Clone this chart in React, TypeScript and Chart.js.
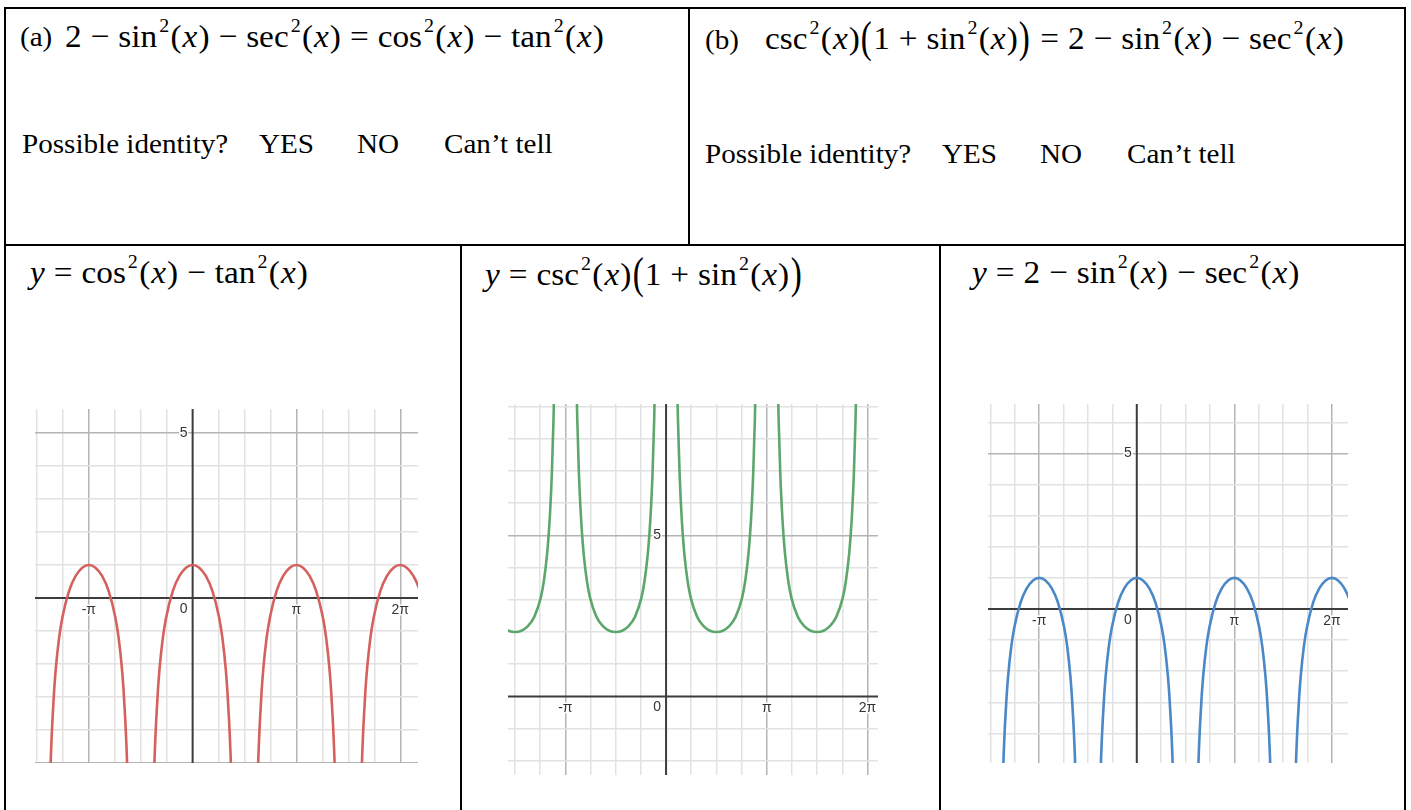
import React, { useEffect, useRef } from "react";
import { Chart, registerables } from "chart.js";

Chart.register(...registerables);

const PI = Math.PI;

// ---------- data ----------
// y = cos²(x) − tan²(x)  (red)
const redX = [
  -4.39, -4.34, -4.29, -4.24, -4.19, -4.14, -4.04, -3.94, -3.74, -3.54, -3.34, -3.14, -2.94, -2.74, -2.54, -2.34, -2.24, -2.14, -2.09, -2.04, -1.99, -1.94, -1.89,
  -1.57,
  -1.25, -1.2, -1.15, -1.1, -1.05, -1, -0.9, -0.8, -0.6, -0.4, -0.2, 0, 0.2, 0.4, 0.6, 0.8, 0.9, 1, 1.05, 1.1, 1.15, 1.2, 1.25,
  1.57,
  1.89, 1.94, 1.99, 2.04, 2.09, 2.14, 2.24, 2.34, 2.54, 2.74, 2.94, 3.14, 3.34, 3.54, 3.74, 3.94, 4.04, 4.14, 4.19, 4.24, 4.29, 4.34, 4.39,
  4.71,
  5.03, 5.08, 5.13, 5.18, 5.23, 5.28, 5.38, 5.48, 5.68, 5.88, 6.08, 6.28, 6.48, 6.68, 6.88, 7.08,
];
const redY = [
  -8.96, -6.49, -4.81, -3.66, -2.79, -2.13, -1.2, -0.58, 0.21, 0.67, 0.92, 1, 0.92, 0.67, 0.21, -0.58, -1.2, -2.13, -2.79, -3.66, -4.81, -6.49, -8.96,
  null,
  -8.96, -6.49, -4.81, -3.66, -2.79, -2.13, -1.2, -0.58, 0.21, 0.67, 0.92, 1, 0.92, 0.67, 0.21, -0.58, -1.2, -2.13, -2.79, -3.66, -4.81, -6.49, -8.96,
  null,
  -8.96, -6.49, -4.81, -3.66, -2.79, -2.13, -1.2, -0.58, 0.21, 0.67, 0.92, 1, 0.92, 0.67, 0.21, -0.58, -1.2, -2.13, -2.79, -3.66, -4.81, -6.49, -8.96,
  null,
  -8.96, -6.49, -4.81, -3.66, -2.79, -2.13, -1.2, -0.58, 0.21, 0.67, 0.92, 1, 0.92, 0.67, 0.21, -0.58,
];

// y = csc²(x)(1 + sin²(x))  (green)
const greenX = [
  -5.11, -4.91, -4.71, -4.51, -4.31, -4.11, -3.91, -3.81, -3.71, -3.66, -3.61, -3.56, -3.51, -3.46,
  -3.14,
  -2.82, -2.77, -2.72, -2.67, -2.62, -2.57, -2.47, -2.37, -2.17, -1.97, -1.77, -1.57, -1.37, -1.17, -0.97, -0.77, -0.67, -0.57, -0.52, -0.47, -0.42, -0.37, -0.32,
  0,
  0.32, 0.37, 0.42, 0.47, 0.52, 0.57, 0.67, 0.77, 0.97, 1.17, 1.37, 1.57, 1.77, 1.97, 2.17, 2.37, 2.47, 2.57, 2.62, 2.67, 2.72, 2.77, 2.82,
  3.14,
  3.46, 3.51, 3.56, 3.61, 3.66, 3.71, 3.81, 3.91, 4.11, 4.31, 4.51, 4.71, 4.91, 5.11, 5.31, 5.51, 5.61, 5.71, 5.76, 5.81, 5.86, 5.91, 5.96,
];
const greenY = [
  2.18, 2.04, 2, 2.04, 2.18, 2.47, 3.06, 3.59, 4.43, 5.04, 5.86, 6.98, 8.62, 11.06,
  null,
  11.06, 8.62, 6.98, 5.86, 5.04, 4.43, 3.59, 3.06, 2.47, 2.18, 2.04, 2, 2.04, 2.18, 2.47, 3.06, 3.59, 4.43, 5.04, 5.86, 6.98, 8.62, 11.06,
  null,
  11.06, 8.62, 6.98, 5.86, 5.04, 4.43, 3.59, 3.06, 2.47, 2.18, 2.04, 2, 2.04, 2.18, 2.47, 3.06, 3.59, 4.43, 5.04, 5.86, 6.98, 8.62, 11.06,
  null,
  11.06, 8.62, 6.98, 5.86, 5.04, 4.43, 3.59, 3.06, 2.47, 2.18, 2.04, 2, 2.04, 2.18, 2.47, 3.06, 3.59, 4.43, 5.04, 5.86, 6.98, 8.62, 11.06,
];

// y = 2 − sin²(x) − sec²(x)  (blue)
const blueX = [
  -4.39, -4.34, -4.29, -4.24, -4.19, -4.14, -4.04, -3.94, -3.74, -3.54, -3.34, -3.14, -2.94, -2.74, -2.54, -2.34, -2.24, -2.14, -2.09, -2.04, -1.99, -1.94, -1.89,
  -1.57,
  -1.25, -1.2, -1.15, -1.1, -1.05, -1, -0.9, -0.8, -0.6, -0.4, -0.2, 0, 0.2, 0.4, 0.6, 0.8, 0.9, 1, 1.05, 1.1, 1.15, 1.2, 1.25,
  1.57,
  1.89, 1.94, 1.99, 2.04, 2.09, 2.14, 2.24, 2.34, 2.54, 2.74, 2.94, 3.14, 3.34, 3.54, 3.74, 3.94, 4.04, 4.14, 4.19, 4.24, 4.29, 4.34, 4.39,
  4.71,
  5.03, 5.08, 5.13, 5.18, 5.23, 5.28, 5.38, 5.48, 5.68, 5.88, 6.08, 6.28, 6.48, 6.68, 6.88, 7.08,
];
const blueY = [
  -8.96, -6.49, -4.81, -3.66, -2.79, -2.13, -1.2, -0.58, 0.21, 0.67, 0.92, 1, 0.92, 0.67, 0.21, -0.58, -1.2, -2.13, -2.79, -3.66, -4.81, -6.49, -8.96,
  null,
  -8.96, -6.49, -4.81, -3.66, -2.79, -2.13, -1.2, -0.58, 0.21, 0.67, 0.92, 1, 0.92, 0.67, 0.21, -0.58, -1.2, -2.13, -2.79, -3.66, -4.81, -6.49, -8.96,
  null,
  -8.96, -6.49, -4.81, -3.66, -2.79, -2.13, -1.2, -0.58, 0.21, 0.67, 0.92, 1, 0.92, 0.67, 0.21, -0.58, -1.2, -2.13, -2.79, -3.66, -4.81, -6.49, -8.96,
  null,
  -8.96, -6.49, -4.81, -3.66, -2.79, -2.13, -1.2, -0.58, 0.21, 0.67, 0.92, 1, 0.92, 0.67, 0.21, -0.58,
];

// tick labels
const xTickValues = [-PI, 0, PI, 2 * PI];
const xTickLabels = ["-π", "0", "π", "2π"];
const yTickValues = [5];
const yTickLabels = ["5"];

// ---------- chart ----------
const isMult = (v: number, step: number) => Math.abs(v / step - Math.round(v / step)) < 1e-6;

const axesPlugin = {
  id: "desmosAxes",
  beforeDatasetsDraw(chart: any) {
    const { ctx, chartArea: a, scales } = chart;
    const x0 = scales.x.getPixelForValue(0);
    const y0 = scales.y.getPixelForValue(0);
    ctx.save();
    ctx.strokeStyle = "#3c3c3c";
    ctx.lineWidth = 2;
    ctx.beginPath();
    ctx.moveTo(a.left, y0);
    ctx.lineTo(a.right, y0);
    ctx.moveTo(x0, a.top);
    ctx.lineTo(x0, a.bottom);
    ctx.stroke();

    ctx.font = '14px "Liberation Sans", Arial, sans-serif';
    ctx.lineJoin = "round";
    const draw = (t: string, px: number, py: number, align: CanvasTextAlign, base: CanvasTextBaseline) => {
      ctx.textAlign = align;
      ctx.textBaseline = base;
      ctx.strokeStyle = "#ffffff";
      ctx.lineWidth = 3;
      ctx.strokeText(t, px, py);
      ctx.fillStyle = "#333333";
      ctx.fillText(t, px, py);
    };
    xTickValues.forEach((v, i) => {
      const px = scales.x.getPixelForValue(v);
      if (v === 0) draw(xTickLabels[i], px - 5, y0 + 4, "right", "top");
      else draw(xTickLabels[i], px, y0 + 5, "center", "top");
    });
    yTickValues.forEach((v, i) => {
      const py = scales.y.getPixelForValue(v);
      draw(yTickLabels[i], x0 - 5, py, "right", "middle");
    });
    ctx.restore();
  },
};

type GraphProps = {
  left: number; top: number; width: number; height: number;
  xMin: number; xMax: number; yMin: number; yMax: number;
  xs: number[]; ys: (number | null)[]; color: string;
};

function Graph(p: GraphProps) {
  const ref = useRef<HTMLCanvasElement>(null);
  useEffect(() => {
    const pts = p.xs.map((x, i) => ({ x, y: p.ys[i] }));
    const gridColor = (v: number, major: number) =>
      Math.abs(v) < 1e-9 ? "rgba(0,0,0,0)" : isMult(v, major) ? "#b4b4b4" : "#e2e2e2";
    const chart = new Chart(ref.current as HTMLCanvasElement, {
      type: "line",
      data: {
        datasets: [
          {
            data: pts as any,
            borderColor: p.color,
            borderWidth: 2.6,
            pointRadius: 0,
            fill: false,
            spanGaps: false,
            cubicInterpolationMode: "monotone",
            capBezierPoints: false,
            clip: 0,
          } as any,
        ],
      },
      options: {
        animation: false,
        responsive: false,
        maintainAspectRatio: false,
        events: [],
        layout: { padding: 0 },
        plugins: { legend: { display: false }, tooltip: { enabled: false } },
        scales: {
          x: {
            type: "linear",
            min: p.xMin,
            max: p.xMax,
            afterBuildTicks: (axis: any) => {
              const t = [];
              for (let k = Math.ceil(p.xMin / (PI / 4)); (k * PI) / 4 <= p.xMax; k++) t.push({ value: (k * PI) / 4 });
              axis.ticks = t;
            },
            ticks: { display: false },
            grid: { drawTicks: false, lineWidth: 1.5, color: (c: any) => gridColor(c.tick.value, PI) },
            border: { display: false },
          },
          y: {
            type: "linear",
            min: p.yMin,
            max: p.yMax,
            afterBuildTicks: (axis: any) => {
              const t = [];
              for (let k = Math.ceil(p.yMin); k <= p.yMax; k++) t.push({ value: k });
              axis.ticks = t;
            },
            ticks: { display: false },
            grid: { drawTicks: false, lineWidth: 1.5, color: (c: any) => gridColor(c.tick.value, 5) },
            border: { display: false },
          },
        },
      } as any,
      plugins: [axesPlugin],
    });
    return () => chart.destroy();
  }, []);
  return (
    <canvas
      ref={ref}
      width={p.width}
      height={p.height}
      style={{ position: "absolute", left: p.left, top: p.top, width: p.width, height: p.height }}
    />
  );
}

// ---------- math text ----------
const SERIF = "'Liberation Serif', 'Times New Roman', serif";
const STRETCH = 1.04;
const X = () => <span style={{ fontStyle: "italic", margin: "0 0.03em" }}>x</span>;
const Sq = () => (
  <span style={{ fontSize: "0.6em", position: "relative", top: "-0.78em", marginLeft: "0.1em", marginRight: "0.07em" }}>2</span>
);
const Op = ({ c }: { c: string }) => <span style={{ margin: "0 0.27em" }}>{c}</span>;
const Big = ({ c }: { c: string }) => (
  <span
    style={{
      display: "inline-block",
      fontSize: "1.38em",
      lineHeight: 0,
      transform: "scaleX(0.72)",
      position: "relative",
      top: "0.06em",
      margin: "0 -0.02em",
    }}
  >
    {c}
  </span>
);
const T = ({ left, base, size, children }: { left: number; base: number; size: number; children: any }) => (
  <div
    style={{
      position: "absolute",
      left,
      top: base - 0.8375 * size,
      fontFamily: SERIF,
      fontSize: size,
      lineHeight: 1,
      whiteSpace: "nowrap",
      color: "#000",
      transform: `scaleX(${STRETCH})`,
      transformOrigin: "0 0",
    }}
  >
    {children}
  </div>
);

const SinX = () => (<>sin<Sq />(<X />)</>);
const SecX = () => (<>sec<Sq />(<X />)</>);
const CosX = () => (<>cos<Sq />(<X />)</>);
const TanX = () => (<>tan<Sq />(<X />)</>);
const CscX = () => (<>csc<Sq />(<X />)</>);

const EqA = () => (<>2<Op c="−" /><SinX /><Op c="−" /><SecX /><Op c="=" /><CosX /><Op c="−" /><TanX /></>);
const EqB = () => (<><CscX /><Big c="(" />1<Op c="+" /><SinX /><Big c=")" /><Op c="=" />2<Op c="−" /><SinX /><Op c="−" /><SecX /></>);

const Line = ({ x }: { x: number }) => (
  <div style={{ position: "absolute", left: x, top: 7, width: 2, height: 803, background: "#000" }} />
);

const Question = ({ left, base }: { left: number; base: number }) => (
  <>
    <T left={left} base={base} size={28}>Possible identity?</T>
    <T left={left + 237} base={base} size={28}>YES</T>
    <T left={left + 335} base={base} size={28}>NO</T>
    <T left={left + 422} base={base} size={28}>Can’t tell</T>
  </>
);

export default function App() {
  return (
    <div style={{ position: "absolute", left: 0, top: 0, width: 1411, height: 810, overflow: "hidden", background: "#fff" }}>
      {/* table borders */}
      <div style={{ position: "absolute", left: 4, top: 7, width: 1402, height: 2, background: "#000" }} />
      <div style={{ position: "absolute", left: 4, top: 244, width: 1402, height: 2, background: "#000" }} />
      <Line x={4} />
      <Line x={1404} />
      <div style={{ position: "absolute", left: 688, top: 7, width: 2, height: 238, background: "#000" }} />
      <div style={{ position: "absolute", left: 460, top: 244, width: 2, height: 566, background: "#000" }} />
      <div style={{ position: "absolute", left: 939, top: 244, width: 2, height: 566, background: "#000" }} />

      {/* top row */}
      <T left={20} base={46} size={28}>(a)</T>
      <T left={65} base={47} size={32}><EqA /></T>
      <Question left={22} base={153} />

      <T left={705} base={49} size={28}>(b)</T>
      <T left={765} base={49} size={32}><EqB /></T>
      <Question left={705} base={163} />

      {/* bottom row titles */}
      <T left={30} base={283} size={32}><i>y</i><Op c="=" /><CosX /><Op c="−" /><TanX /></T>
      <T left={485} base={285} size={32}><i>y</i><Op c="=" /><CscX /><Big c="(" />1<Op c="+" /><SinX /><Big c=")" /></T>
      <T left={972} base={283} size={32}><i>y</i><Op c="=" />2<Op c="−" /><SinX /><Op c="−" /><SecX /></T>

      {/* graphs */}
      <Graph left={35} top={409} width={383} height={354} xMin={-4.77} xMax={6.82} yMin={-5.0} yMax={5.73} xs={redX} ys={redY} color="#d4615d" />
      <Graph left={508} top={404} width={370} height={371} xMin={-4.93} xMax={6.61} yMin={-2.44} yMax={9.08} xs={greenX} ys={greenY} color="#5ea76c" />
      <Graph left={988} top={404} width={360} height={359} xMin={-4.79} xMax={6.8} yMin={-4.95} yMax={6.59} xs={blueX} ys={blueY} color="#4a88c7" />
    </div>
  );
}
